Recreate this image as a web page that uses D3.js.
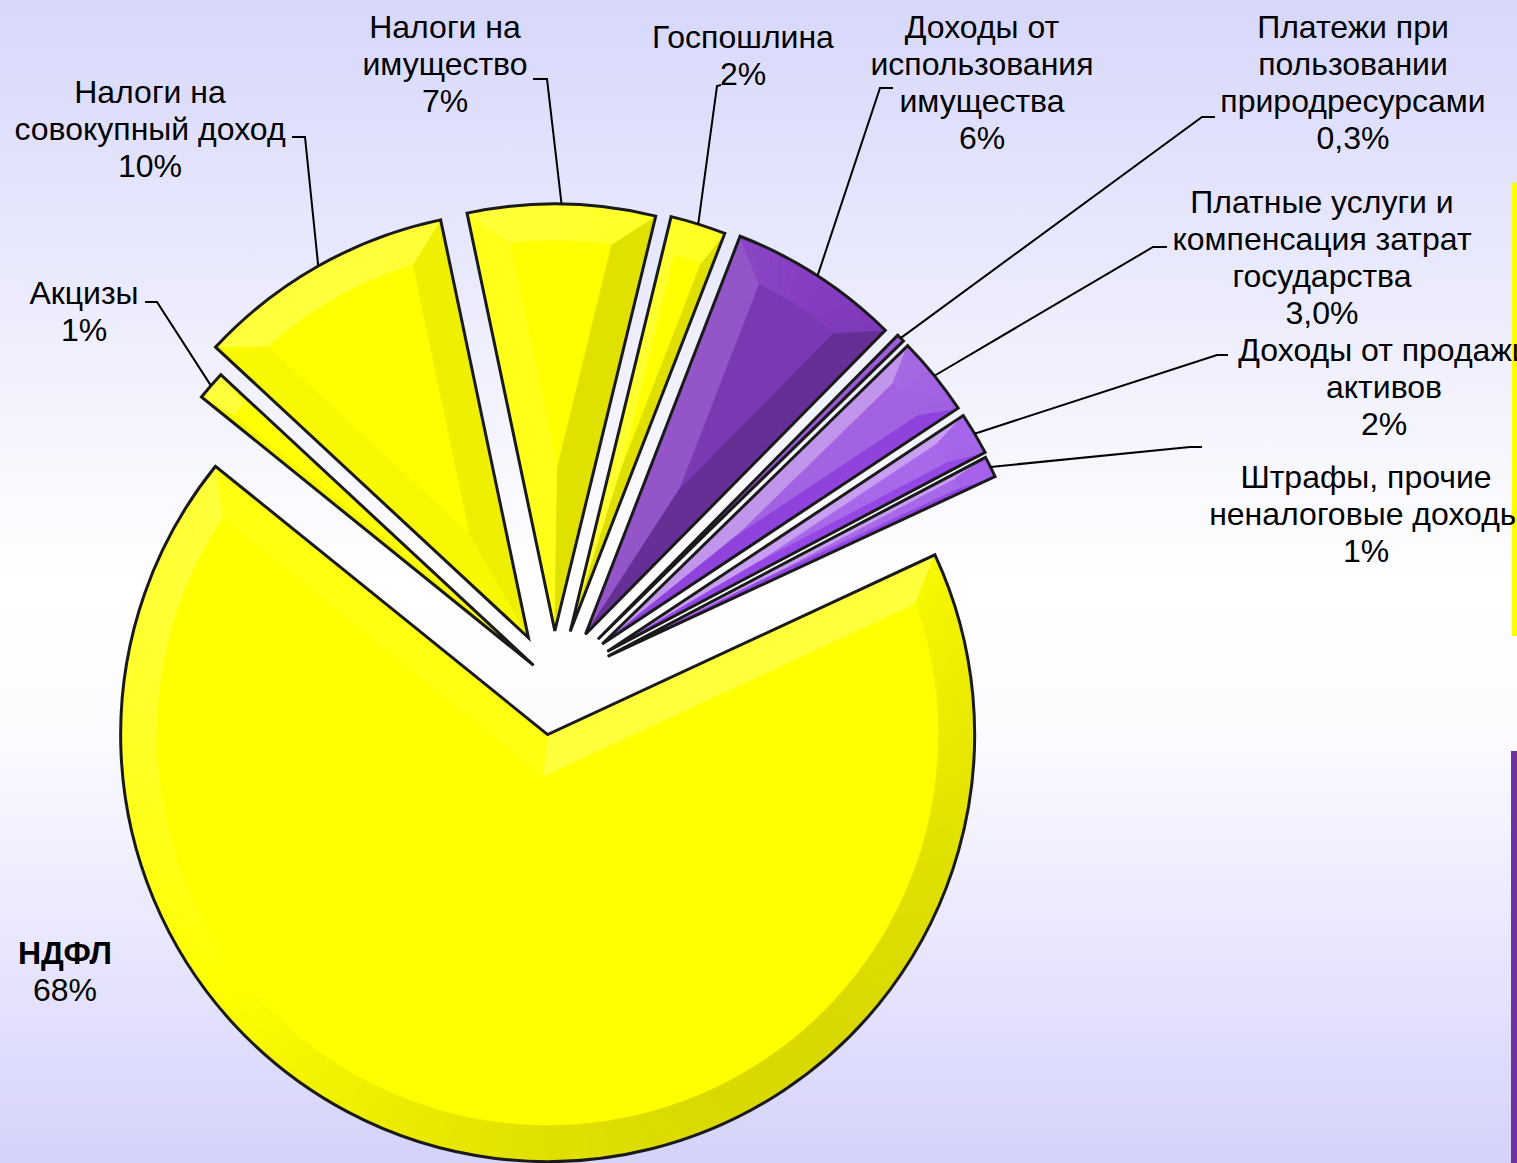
<!DOCTYPE html>
<html>
<head>
<meta charset="utf-8">
<script src="https://cdn.jsdelivr.net/npm/d3@7"></script>
<style>
  html, body { margin: 0; padding: 0; overflow: hidden; }
  svg { display: block; }
  text { font-family: "Liberation Sans", Arial, sans-serif; font-size: 32px; fill: #000; }
</style>
</head>
<body>
<svg id="chart"></svg>
<script>
// data: shares of budget revenue
const categories = [
  "НДФЛ", "Акцизы", "Налоги на совокупный доход", "Налоги на имущество", "Госпошлина",
  "Доходы от использования имущества", "Платежи при пользовании природресурсами",
  "Платные услуги и компенсация затрат государства", "Доходы от продажи активов",
  "Штрафы, прочие неналоговые доходы"
];
const shares = [67.8, 1.1, 9.8, 7.1, 2.1, 6.5, 0.3, 3.0, 1.6, 0.8];
const labelLines = [
  ["НДФЛ", "68%"],
  ["Акцизы", "1%"],
  ["Налоги на", "совокупный доход", "10%"],
  ["Налоги на", "имущество", "7%"],
  ["Госпошлина", "2%"],
  ["Доходы от", "использования", "имущества", "6%"],
  ["Платежи при", "пользовании", "природресурсами", "0,3%"],
  ["Платные услуги и", "компенсация затрат", "государства", "3,0%"],
  ["Доходы от продажи", "активов", "2%"],
  ["Штрафы, прочие", "неналоговые доходы", "1%"]
];

// styles / layout
const colors = ["#ffff00", "#ffff00", "#ffff00", "#ffff00", "#ffff00",
                "#7a38b2", "#9a58d8", "#a262e2", "#a868ea", "#a868ea"];
const explode = [52, 27, 52, 52, 54, 58, 62, 62, 62, 60];
// label centre x, first baseline y, hook [x0,y0,x1,y1] (null = no leader)
const labelPos = [
  { x: 65,   y: 964, hook: null },
  { x: 84,   y: 304, hook: [145, 302, 157, 302] },
  { x: 150,  y: 103, hook: [292, 137, 305, 137] },
  { x: 445,  y: 38,  hook: [533, 79, 547, 79] },
  { x: 743,  y: 48,  hook: [721, 85, 717, 86] },
  { x: 982,  y: 38,  hook: [893, 88, 880, 88] },
  { x: 1353, y: 38,  hook: [1215, 117, 1202, 117] },
  { x: 1322, y: 213, hook: [1167, 247, 1153, 247] },
  { x: 1384, y: 361, hook: [1228, 355, 1217, 355] },
  { x: 1366, y: 488, hook: [1202, 447, 1190, 447] }
];

const width = 1517, height = 1163;
const cx = 554, cy = 683, R = 427, bevel = 36;
const lineGap = 37;
const startDeg = 65.1;

const svg = d3.select("#chart").attr("width", width).attr("height", height);

// background gradient
const defs = svg.append("defs");
const bg = defs.append("linearGradient").attr("id", "bg")
  .attr("x1", 0).attr("y1", 0).attr("x2", 0).attr("y2", 1);
bg.append("stop").attr("offset", "0").attr("stop-color", "#d7d7fb");
bg.append("stop").attr("offset", "0.5").attr("stop-color", "#ffffff");
bg.append("stop").attr("offset", "0.62").attr("stop-color", "#fcfcff");
bg.append("stop").attr("offset", "1").attr("stop-color", "#d5d2fb");
svg.append("rect").attr("width", width).attr("height", height).attr("fill", "url(#bg)");

// side bars on the right edge (from slide layout)
svg.append("rect").attr("x", 1512).attr("y", 183).attr("width", 5).attr("height", 453).attr("fill", "#ffff00");
svg.append("rect").attr("x", 1511).attr("y", 751).attr("width", 6).attr("height", 412).attr("fill", "#7030a0");

// helpers
const dir = a => [Math.sin(a), -Math.cos(a)];
const at = (P, a, r) => { const d = dir(a); return [P[0] + r * d[0], P[1] + r * d[1]]; };
const Lraw = [-0.6, -0.8];
const Ll = Math.hypot(Lraw[0], Lraw[1]);
const light = [Lraw[0] / Ll, Lraw[1] / Ll];

function shade(base, n) {
  const k = n[0] * light[0] + n[1] * light[1];
  const c = d3.hsl(base);
  c.l = k > 0 ? c.l + 0.12 * k : c.l + 0.075 * k;
  return c.formatHex();
}

function poly(g, pts, fill) {
  g.append("path")
    .attr("d", "M" + pts.map(p => p.join(",")).join("L") + "Z")
    .attr("fill", fill)
    .attr("stroke", fill)
    .attr("stroke-width", 0.7);
}

const pie = d3.pie().sort(null).value(d => d)
  .startAngle(startDeg * Math.PI / 180)
  .endAngle(startDeg * Math.PI / 180 + 2 * Math.PI);
const arcs = pie(shares);
const arcGen = d3.arc().innerRadius(0).outerRadius(R);

const slices = svg.append("g");
const O = [0, 0];

arcs.forEach((a, i) => {
  const mid = (a.startAngle + a.endAngle) / 2;
  const P = at([cx, cy], mid, explode[i]);
  a.apex = P;
  a.mid = mid;
  const g = slices.append("g").attr("transform", `translate(${P[0]},${P[1]})`);
  const a0 = a.startAngle, a1 = a.endAngle;
  const half = (a1 - a0) / 2;
  const ws = Math.min(bevel, R * Math.sin(half) * 0.4);
  const ri = R - bevel;
  const dl = Math.asin(ws / ri);
  const d = ws / Math.sin(half);
  const Pi = at(O, mid, d);
  const base = colors[i];

  g.append("path").attr("d", arcGen(a)).attr("fill", base);

  // side bevels
  poly(g, [O, at(O, a0, R), at(O, a0 + dl, ri), Pi], shade(base, dir(a0 - Math.PI / 2)));
  poly(g, [O, at(O, a1, R), at(O, a1 - dl, ri), Pi], shade(base, dir(a1 + Math.PI / 2)));

  // outer rim bevel, split so the shading follows the arc
  const n = Math.max(2, Math.ceil((a1 - a0) / (1.5 * Math.PI / 180)));
  const b0 = a0 + dl, b1 = a1 - dl;
  for (let k = 0; k < n; k++) {
    const t0 = k / n, t1 = (k + 1) / n;
    const o0 = a0 + t0 * (a1 - a0), o1 = a0 + t1 * (a1 - a0);
    const i0 = b0 + t0 * (b1 - b0), i1 = b0 + t1 * (b1 - b0);
    poly(g, [at(O, o0, R), at(O, o1, R), at(O, i1, ri), at(O, i0, ri)],
      shade(base, dir((o0 + o1) / 2)));
  }

  g.append("path").attr("d", arcGen(a))
    .attr("fill", "none")
    .attr("stroke", "#1a1a1a")
    .attr("stroke-width", 3)
    .attr("stroke-linejoin", "miter");
});

// leader lines
const leaders = svg.append("g");
arcs.forEach((a, i) => {
  const h = labelPos[i].hook;
  if (!h) return;
  const end = at(a.apex, a.mid, R);
  leaders.append("path")
    .attr("d", `M${h[0]},${h[1]}L${h[2]},${h[3]}L${end[0]},${end[1]}`)
    .attr("fill", "none")
    .attr("stroke", "#000")
    .attr("stroke-width", 2);
});

// labels
const labels = svg.append("g");
labelLines.forEach((lines, i) => {
  const p = labelPos[i];
  lines.forEach((t, j) => {
    labels.append("text")
      .attr("x", p.x)
      .attr("y", p.y + j * lineGap)
      .attr("text-anchor", "middle")
      .style("font-weight", i === 0 && j === 0 ? "bold" : "normal")
      .text(t);
  });
});
</script>
</body>
</html>
